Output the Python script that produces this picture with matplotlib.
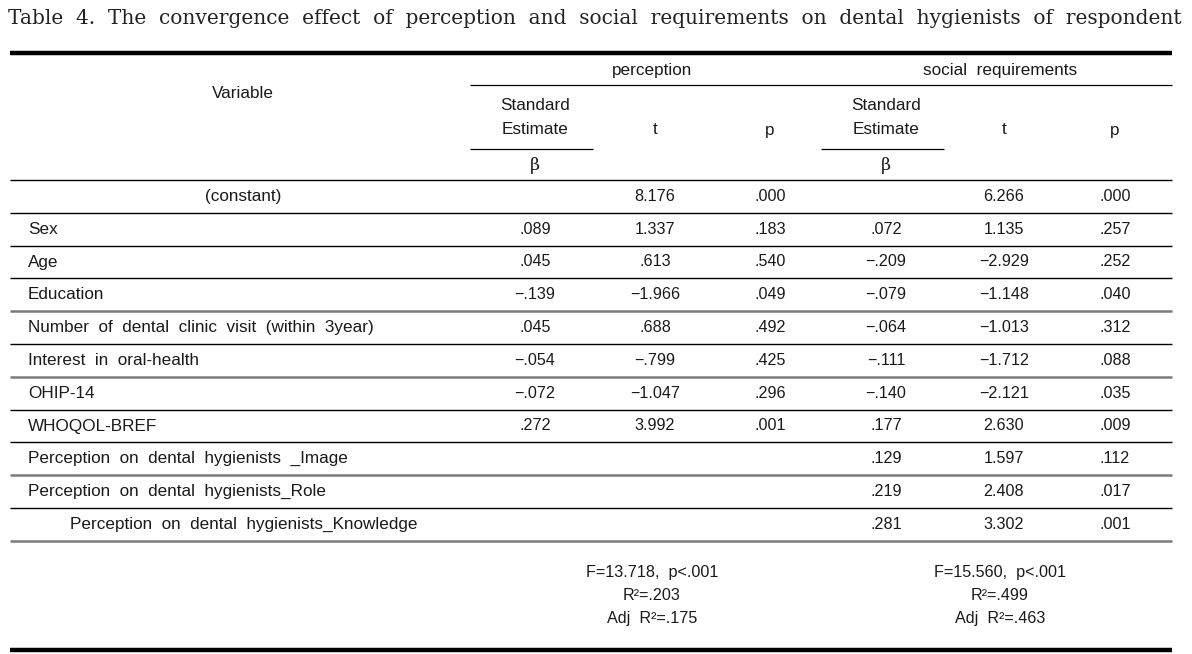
import matplotlib
matplotlib.use("Agg")
import matplotlib.pyplot as plt

# Table 4 data
title = ("Table 4. The convergence effect of perception and social requirements "
         "on dental hygienists of respondent")
groups = ["perception", "social requirements"]
variables = ["(constant)", "Sex", "Age", "Education",
             "Number of dental clinic visit (within 3year)",
             "Interest in oral-health", "OHIP-14", "WHOQOL-BREF",
             "Perception on dental hygienists _Image",
             "Perception on dental hygienists_Role",
             "Perception on dental hygienists_Knowledge"]
perc_beta = [None, .089, .045, -.139, .045, -.054, -.072, .272, None, None, None]
perc_t = [8.176, 1.337, .613, -1.966, .688, -.799, -1.047, 3.992, None, None, None]
perc_p = [.000, .183, .540, .049, .492, .425, .296, .001, None, None, None]
soc_beta = [None, .072, -.209, -.079, -.064, -.111, -.140, .177, .129, .219, .281]
soc_t = [6.266, 1.135, -2.929, -1.148, -1.013, -1.712, -2.121, 2.630, 1.597, 2.408, 3.302]
soc_p = [.000, .257, .252, .040, .312, .088, .035, .009, .112, .017, .001]
f_vals = [13.718, 15.560]
r2_vals = [.203, .499]
adj_r2_vals = [.175, .463]


def fmt(v):
    if v is None:
        return ""
    s = f"{abs(v):.3f}"
    if abs(v) < 1:
        s = s[1:]
    return ("\u2212" if v < 0 else "") + s


def wide(s):
    # the source uses generous word spacing
    return s.replace(" ", "  ")


W, H = 1192, 654
fig = plt.figure(figsize=(W / 100, H / 100), dpi=100)
ax = fig.add_axes([0, 0, 1, 1])
ax.set_xlim(0, W)
ax.set_ylim(H, 0)
ax.axis("off")

sans = ["Liberation Sans"]
fs = 12.3
nfs = 11.6   # numbers, a touch smaller to keep them narrow
tc = "#1a1a1a"
L, R = 10, 1172


def rule(y, x0=L, x1=R, lw=1.0, c="black"):
    ax.plot([x0, x1], [y, y], color=c, lw=lw, solid_capstyle="butt")


def txt(x, y, s, ha="center", **kw):
    kw.setdefault("family", sans)
    kw.setdefault("fontsize", fs)
    ax.text(x, y, s, ha=ha, va="center", color=tc, **kw)


# title, fitted to the width of the picture
t = ax.text(8, 18, wide(title), ha="left", va="center", family="DejaVu Serif",
            fontsize=13, color="#222222")
fig.canvas.draw()
w = t.get_window_extent().width
t.set_fontsize(13 * 1170 / w)

rule(53, lw=3.2)
rule(650, lw=3.2)

# header
col_x = [535, 655, 770, 886, 1004, 1115]
group_x = [652, 1000]
txt(243, 94, "Variable")
for gx, g in zip(group_x, groups):
    txt(gx, 70, wide(g))
rule(85, 470, R, lw=0.9)
for k in (0, 3):
    txt(col_x[k], 106, "Standard")
    txt(col_x[k], 129, "Estimate")
    rule(149, col_x[k] - 65, col_x[k] + 58, lw=0.9)
    txt(col_x[k], 165, "\u03b2", family="DejaVu Serif", fontsize=12.5)
    txt(col_x[k + 1], 130, "t")
    txt(col_x[k + 2], 131, "p")
rule(180, lw=1.0)

# body rows
row_h = 32.8
top = 180
columns = [perc_beta, perc_t, perc_p, soc_beta, soc_t, soc_p]
grey_rows = {3, 5, 8, 10}
for i, name in enumerate(variables):
    yc = top + row_h * (i + 0.5)
    if i == 0:
        txt(243, yc, name)
    elif name.endswith("Knowledge"):
        txt(70, yc, wide(name), ha="left")
    else:
        txt(28, yc, wide(name), ha="left")
    for cx, col in zip(col_x, columns):
        txt(cx, yc, fmt(col[i]), fontsize=nfs)
    yb = top + row_h * (i + 1)
    if i in grey_rows:
        rule(yb, lw=1.8, c="#7a7a7a")
    else:
        rule(yb, lw=1.0)

# model summary
for gx, f, r2, a2 in zip(group_x, f_vals, r2_vals, adj_r2_vals):
    txt(gx, 572, f"F={f:.3f},  p<.001", fontsize=nfs)
    txt(gx, 595, f"R\u00b2={fmt(r2)}", fontsize=nfs)
    txt(gx, 618, f"Adj  R\u00b2={fmt(a2)}", fontsize=nfs)

fig.savefig("out.png", dpi=100, facecolor="white")
